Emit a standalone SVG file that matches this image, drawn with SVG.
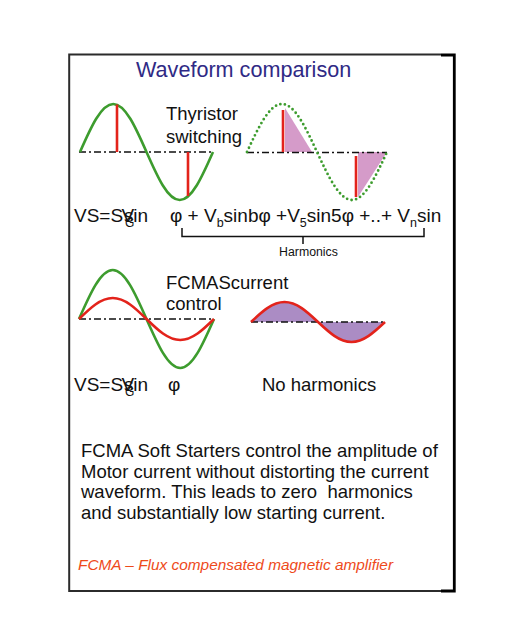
<svg xmlns="http://www.w3.org/2000/svg" width="509" height="644" viewBox="0 0 509 644">
<style>
text{font-family:"Liberation Sans",Arial,sans-serif;fill:#111}
.t{font-size:18.5px}
.f{font-size:19px}
.sub{font-size:12.5px}
.axis{fill:none;stroke:#111;stroke-width:1.5;stroke-dasharray:7 3 2 3}
.green{fill:none;stroke:#3d9c2e;stroke-width:2.6}
.dots{fill:none;stroke:#3d9c2e;stroke-width:2.8;stroke-dasharray:0 4.6;stroke-linecap:round}
.red{fill:none;stroke:#e3231b;stroke-width:2.6}
.pink{fill:#d59bc9}
</style>
<rect width="509" height="644" fill="#fff"/>
<g id="frame">
<path d="M441,54.6 H69.2 V591 H441" fill="none" stroke="#2b2b2b" stroke-width="2"/>
<path d="M441,55 H454.3 V591 H441" fill="none" stroke="#000" stroke-width="2.8"/>
</g>
<g id="title"><text x="136" y="77" style="font-size:21.6px;fill:#2f2a85">Waveform comparison</text></g>

<g id="thyristor-wave">
<line class="axis" x1="79" y1="152" x2="213" y2="152"/>
<path class="green" d="M80,152 C90.84,127.41 101.22,104 113.25,104 C125.28,104 135.66,127.41 146.5,152 C157.34,176.59 167.72,200 179.75,200 C191.78,200 202.16,176.59 213,152"/>
<line class="red" x1="117" y1="104.5" x2="117" y2="152"/>
<line class="red" x1="188" y1="152" x2="188" y2="196"/>
</g>
<g id="thyristor-label">
<text class="t" x="166" y="119.5">Thyristor</text>
<text class="t" x="166" y="142.5">switching</text>
</g>
<g id="harmonic-wave">
<polygon class="pink" points="285,108 312,152 285,152"/>
<polygon class="pink" points="358,152 387,152 358,197"/>
<line class="axis" x1="247" y1="152.5" x2="387" y2="152.5"/>
<path class="dots" d="M247,152 C258.41,127.41 269.33,104 282,104 C294.67,104 305.59,127.41 317,152 C328.41,176.59 339.33,200 352,200 C364.67,200 375.59,176.59 387,152"/>
<line class="red" x1="283" y1="110" x2="283" y2="152"/>
<line class="red" x1="356" y1="156" x2="356" y2="197"/>
</g>
<g id="formula-1">
<text class="f" x="74" y="222">VS=S</text>
<text class="f" x="121.5" y="222">V</text>
<text class="f" x="124" y="222">s</text>
<text class="f" x="133.3" y="222">in</text>
<text x="125" y="227" style="font-size:12px">G</text>
<text class="f" x="170" y="222">φ + V<tspan class="sub" dy="5">b</tspan><tspan dy="-5">sinbφ +V</tspan><tspan class="sub" dy="5">5</tspan><tspan dy="-5">sin5φ +..+ V</tspan><tspan class="sub" dy="5">n</tspan><tspan dy="-5">sin</tspan></text>
</g>
<g id="connectors">
<path d="M182,228 V236.5 H424 V228 M303,236.5 V244" fill="none" stroke="#111" stroke-width="1.5"/>
</g>
<g id="harmonics-label"><text x="308.5" y="256" text-anchor="middle" style="font-size:12.3px">Harmonics</text></g>

<g id="fcma-wave">
<line class="axis" x1="79" y1="319" x2="214" y2="319"/>
<path class="green" d="M79,319 C90.01,293.9 100.54,270 112.75,270 C124.96,270 135.49,293.9 146.5,319 C157.51,344.1 168.04,368 180.25,368 C192.46,368 202.99,344.1 214,319"/>
<path class="red" d="M79,319 C90.01,308.24 100.54,298 112.75,298 C124.96,298 135.49,308.24 146.5,319 C157.51,329.76 168.04,340 180.25,340 C192.46,340 202.99,329.76 214,319"/>
</g>
<g id="fcma-label">
<text class="t" x="166" y="288.5">FCMAScurrent</text>
<text class="t" x="166" y="310">control</text>
</g>
<g id="clean-wave">
<path d="M251,322 C261.92,311.75 272.38,302 284.5,302 C296.62,302 307.08,311.75 318,322 C328.92,332.25 339.38,342 351.5,342 C363.62,342 374.08,332.25 385,322 Z" fill="#ab8cc4"/>
<line class="axis" x1="251" y1="322" x2="385" y2="322"/>
<path class="red" d="M251,322 C261.92,311.75 272.38,302 284.5,302 C296.62,302 307.08,311.75 318,322 C328.92,332.25 339.38,342 351.5,342 C363.62,342 374.08,332.25 385,322"/>
</g>
<g id="formula-2">
<text class="f" x="74" y="391">VS=S</text>
<text class="f" x="121.5" y="391">V</text>
<text class="f" x="124" y="391">s</text>
<text class="f" x="133.3" y="391">in</text>
<text x="125" y="396" style="font-size:12px">G</text>
<text class="f" x="168" y="391">φ</text>
</g>
<g id="no-harmonics"><text class="t" x="262" y="391">No harmonics</text></g>
<g id="description">
<text class="t" x="81" y="456.5">FCMA Soft Starters control the amplitude of</text>
<text class="t" x="81" y="477.5">Motor current without distorting the current</text>
<text class="t" x="81" y="498" xml:space="preserve">waveform. This leads to zero  harmonics</text>
<text class="t" x="81" y="518.5">and substantially low starting current.</text>
</g>
<g id="footnote"><text x="78" y="570" style="font-size:15.4px;font-style:italic;fill:#ee4a1b">FCMA – Flux compensated magnetic amplifier</text></g>
</svg>
